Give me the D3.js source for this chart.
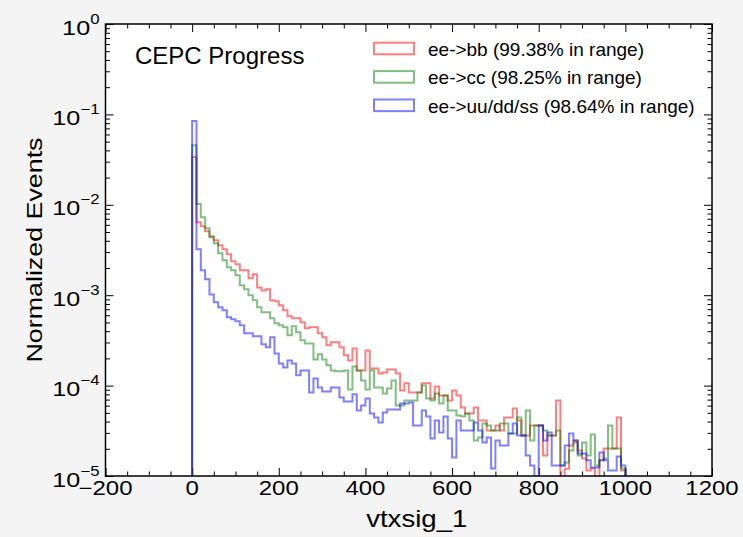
<!DOCTYPE html>
<html>
<head>
<meta charset="utf-8">
<script src="https://cdn.jsdelivr.net/npm/d3@7"></script>
<style>
  body { margin: 0; background: #f4f4f4; }
  svg { display: block; font-family: "Liberation Sans", Arial, sans-serif; }
</style>
</head>
<body>
<div id="chart"></div>
<script>
// histogram of vtxsig_1, 100 bins of width 10 from 0 to 1000 (normalized)
const binLow = 0, binHigh = 1000, binWidth = 10;

const bbValues = [
  3.37e-2, 6.42e-3, 5.79e-3, 5.10e-3, 4.49e-3, 4.05e-3, 3.57e-3, 3.22e-3, 2.84e-3, 2.37e-3,
  2.20e-3, 1.89e-3, 1.89e-3, 1.54e-3, 1.70e-3, 1.22e-3, 1.13e-3, 1.16e-3, 8.79e-4, 8.55e-4,
  7.73e-4, 6.81e-4, 5.84e-4, 5.55e-4, 5.55e-4, 5.01e-4, 4.30e-4, 4.41e-4, 4.41e-4, 3.79e-4,
  3.42e-4, 2.79e-4, 3.01e-4, 3.01e-4, 2.65e-4, 2.16e-4, 1.90e-4, 2.58e-4, 1.47e-4, 1.47e-4,
  2.45e-4, 1.55e-4, 1.55e-4, 1.36e-4, 1.40e-4, 1.51e-4, 1.51e-4, 1.36e-4, 8.85e-5, 1.06e-4,
  8.40e-5, 8.40e-5, 8.40e-5, 1.06e-4, 1.06e-4, 7.22e-5, 9.80e-5, 7.78e-5, 7.78e-5, 6.86e-5,
  8.85e-5, 7.78e-5, 5.74e-5, 4.92e-5, 4.92e-5, 5.74e-5, 4.12e-5, 4.12e-5, 3.19e-5, 3.19e-5,
  3.62e-5, 3.19e-5, 4.45e-5, 4.45e-5, 5.59e-5, 4.12e-5, 2.81e-5, 2.81e-5, 3.62e-5, 3.62e-5,
  3.62e-5, 1.69e-5, 2.81e-5, 2.81e-5, 6.86e-5, 0, 1.20e-5, 2.18e-5, 2.47e-5, 1.91e-5,
  1.56e-5, 1.15e-5, 1.21e-5, 0, 1.49e-5, 2.02e-5, 2.02e-5, 2.02e-5, 4.45e-5, 1.15e-5
];

const ccValues = [
  4.57e-2, 1.02e-2, 7.29e-3, 5.51e-3, 4.38e-3, 3.76e-3, 2.91e-3, 2.43e-3, 2.04e-3, 1.89e-3,
  1.66e-3, 1.29e-3, 1.16e-3, 9.98e-4, 8.79e-4, 7.34e-4, 6.47e-4, 6.47e-4, 5.55e-4, 4.89e-4,
  4.65e-4, 4.41e-4, 3.60e-4, 4.53e-4, 3.88e-4, 3.17e-4, 2.93e-4, 2.93e-4, 1.95e-4, 2.22e-4,
  1.95e-4, 1.68e-4, 1.47e-4, 1.44e-4, 1.44e-4, 1.47e-4, 9.08e-5, 1.63e-4, 1.47e-4, 1.14e-4,
  9.08e-5, 1.47e-4, 9.55e-5, 9.55e-5, 8.20e-5, 9.31e-5, 1.14e-4, 6.04e-5, 6.04e-5, 6.86e-5,
  6.86e-5, 6.86e-5, 8.40e-5, 1.00e-4, 7.22e-5, 6.86e-5, 8.20e-5, 6.35e-5, 7.78e-5, 5.31e-5,
  5.31e-5, 4.68e-5, 4.57e-5, 4.92e-5, 4.12e-5, 2.47e-5, 2.67e-5, 3.81e-5, 3.62e-5, 3.19e-5,
  3.19e-5, 3.81e-5, 3.81e-5, 2.96e-5, 2.96e-5, 4.45e-5, 2.81e-5, 5.31e-5, 2.47e-5, 3.62e-5,
  3.62e-5, 3.19e-5, 2.81e-5, 2.81e-5, 3.19e-5, 1.31e-5, 1.41e-5, 1.91e-5, 2.35e-5, 1.69e-5,
  2.35e-5, 1.69e-5, 2.88e-5, 1.31e-5, 1.49e-5, 1.56e-5, 3.62e-5, 2.02e-5, 2.02e-5, 1.21e-5
];

const udsValues = [
  8.43e-2, 3.22e-3, 1.89e-3, 1.50e-3, 1.02e-3, 8.34e-4, 7.34e-4, 6.81e-4, 5.69e-4, 5.41e-4,
  5.14e-4, 4.65e-4, 3.79e-4, 3.79e-4, 3.51e-4, 3.51e-4, 2.86e-4, 2.65e-4, 3.42e-4, 2.27e-4,
  1.76e-4, 1.59e-4, 1.90e-4, 1.76e-4, 1.30e-4, 1.47e-4, 1.47e-4, 8.40e-5, 1.20e-4, 9.55e-5,
  8.63e-5, 8.63e-5, 9.55e-5, 9.55e-5, 7.40e-5, 6.68e-5, 6.68e-5, 8.00e-5, 5.31e-5, 6.04e-5,
  7.22e-5, 4.92e-5, 4.45e-5, 3.91e-5, 5.05e-5, 5.45e-5, 5.45e-5, 5.45e-5, 6.35e-5, 6.35e-5,
  6.52e-5, 3.62e-5, 3.62e-5, 5.31e-5, 4.56e-5, 2.60e-5, 4.12e-5, 3.03e-5, 4.56e-5, 2.60e-5,
  1.60e-5, 4.12e-5, 3.19e-5, 3.19e-5, 3.19e-5, 3.91e-5, 3.19e-5, 2.35e-5, 2.67e-5, 1.21e-5,
  2.47e-5, 2.18e-5, 2.18e-5, 2.96e-5, 3.81e-5, 2.81e-5, 2.81e-5, 1.69e-5, 1.31e-5, 0,
  3.62e-5, 2.47e-5, 3.03e-5, 1.31e-5, 1.31e-5, 1.31e-5, 2.18e-5, 2.96e-5, 2.47e-5, 1.77e-5,
  1.77e-5, 1.49e-5, 1.24e-5, 1.24e-5, 1.82e-5, 1.49e-5, 1.15e-5, 1.15e-5, 1.64e-5, 1.31e-5
];

const seriesNames = ["ee->bb (99.38% in range)", "ee->cc (98.25% in range)", "ee->uu/dd/ss (98.64% in range)"];
const seriesColors = ["#ff0000", "#008000", "#0000ff"];

const xMajorTicks = [-200, 0, 200, 400, 600, 800, 1000, 1200];
const yMajorTicks = [1, 1e-1, 1e-2, 1e-3, 1e-4, 1e-5];
const yTickExponents = ["0", "\u22121", "\u22122", "\u22123", "\u22124", "\u22125"];

// set the dimensions and margins of the graph
const margin = {top: 24, right: 31, bottom: 61, left: 105.5},
      width = 743 - margin.left - margin.right,
      height = 537 - margin.top - margin.bottom;

const svg = d3.select("#chart")
  .append("svg")
    .attr("width", 743)
    .attr("height", 537);

svg.append("rect").attr("width", 743).attr("height", 537).attr("fill", "#f4f4f4");

const g = svg.append("g")
    .attr("transform", `translate(${margin.left},${margin.top})`);

g.append("rect").attr("width", width).attr("height", height).attr("fill", "white");

const x = d3.scaleLinear().domain([-200, 1200]).range([0, width]);
const y = d3.scaleLog().domain([1e-5, 1]).range([height, 0]);

// minor ticks
const xMinor = d3.range(-200, 1201, 50).filter(v => v % 200 !== 0);
const yMinor = [];
for (let e = -5; e < 0; e++) for (let m = 2; m <= 9; m++) yMinor.push(m * Math.pow(10, e));

function tickAxis(axisFn, scale, values, size, transform) {
  const a = g.append("g")
    .attr("transform", transform || null)
    .call(axisFn(scale).tickValues(values).tickSize(size).tickFormat(""));
  a.select(".domain").remove();
  a.selectAll("line").attr("stroke", "black").attr("stroke-width", 1);
}
tickAxis(d3.axisBottom, x, xMajorTicks, -8, `translate(0,${height})`);
tickAxis(d3.axisBottom, x, xMinor, -4.5, `translate(0,${height})`);
tickAxis(d3.axisTop, x, xMajorTicks, -8);
tickAxis(d3.axisTop, x, xMinor, -4.5);
tickAxis(d3.axisLeft, y, yMajorTicks, -8);
tickAxis(d3.axisLeft, y, yMinor, -4.5);
tickAxis(d3.axisRight, y, yMajorTicks, -8, `translate(${width},0)`);
tickAxis(d3.axisRight, y, yMinor, -4.5, `translate(${width},0)`);

// the axis font is a bit wider than Liberation Sans, stretch it
const stretch = 1.2;

// tick labels
g.selectAll(".xlab").data(xMajorTicks).join("g")
  .attr("transform", d => `translate(${x(d)},${height + 19}) scale(${stretch},1)`)
  .append("text")
  .attr("text-anchor", "middle")
  .attr("font-size", 20)
  .text(d => d < 0 ? "\u2212" + Math.abs(d) : d);

const ylab = g.selectAll(".ylab").data(yMajorTicks).join("g")
  .attr("transform", d => `translate(-6,${y(d) + 10.5}) scale(${stretch},1)`)
  .append("text")
  .attr("text-anchor", "end")
  .attr("font-size", 21);
ylab.append("tspan").text("10");
ylab.append("tspan").attr("dy", -11).attr("font-size", 14)
  .text((d, i) => yTickExponents[i]);

// histograms as step lines
g.append("clipPath").attr("id", "clip")
  .append("rect").attr("width", width).attr("height", height);

const floor = 1e-7;
function stepPoints(values) {
  const pts = [[binLow, floor]];
  values.forEach((v, i) => {
    const lo = binLow + i * binWidth;
    pts.push([lo, Math.max(v, floor)], [lo + binWidth, Math.max(v, floor)]);
  });
  pts.push([binHigh, floor]);
  return pts;
}
const line = d3.line().x(d => x(d[0])).y(d => y(d[1]));

const plotArea = g.append("g").attr("clip-path", "url(#clip)");
[bbValues, ccValues, udsValues].forEach((vals, i) => {
  plotArea.append("path")
    .datum(stepPoints(vals))
    .attr("fill", "none")
    .attr("stroke", seriesColors[i])
    .attr("stroke-opacity", 0.5)
    .attr("stroke-width", 2)
    .attr("d", line);
});

// frame
g.append("rect").attr("width", width).attr("height", height)
  .attr("fill", "none").attr("stroke", "black").attr("stroke-width", 1.5);

// axis labels
svg.append("g")
  .attr("transform", `translate(${margin.left + width / 2 + 8},527) scale(${stretch},1)`)
  .append("text")
  .attr("text-anchor", "middle")
  .attr("font-size", 23)
  .text("vtxsig_1");

svg.append("g")
  .attr("transform", `translate(42,${margin.top + height / 2}) rotate(-90) scale(1.22,1)`)
  .append("text")
  .attr("text-anchor", "middle")
  .attr("font-size", 22)
  .text("Normalized Events");

svg.append("text")
  .attr("x", 135).attr("y", 64)
  .attr("font-size", 24)
  .text("CEPC Progress");

// legend
const legend = svg.append("g").attr("transform", "translate(374,42.7)");
seriesNames.forEach((name, i) => {
  legend.append("rect")
    .attr("x", 0).attr("y", i * 28.4)
    .attr("width", 40).attr("height", 11.6)
    .attr("fill", "none")
    .attr("stroke", seriesColors[i]).attr("stroke-opacity", 0.5).attr("stroke-width", 2);
  legend.append("text")
    .attr("x", 54).attr("y", i * 28.4 + 13.3)
    .attr("font-size", 19)
    .text(name);
});
</script>
</body>
</html>
